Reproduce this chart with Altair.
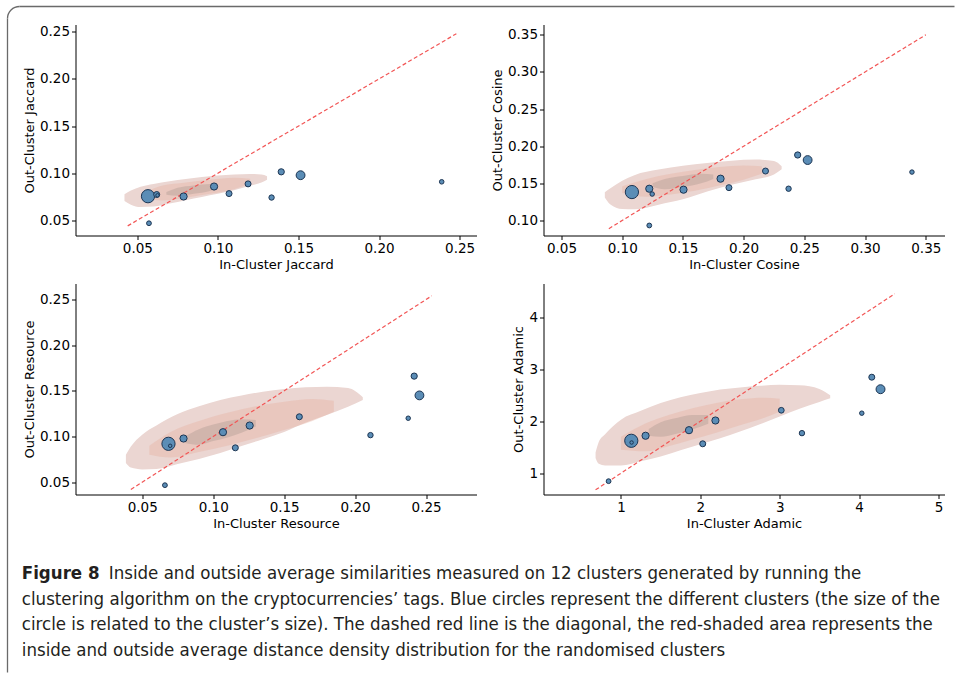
import altair as alt
import pandas as pd

# ---------------- cluster points ----------------
jac_in = [0.0566, 0.0620, 0.0625, 0.0787, 0.0976, 0.1069, 0.1187, 0.1333, 0.1393, 0.1513, 0.2389, 0.0572]
jac_out = [0.0755, 0.0773, 0.0765, 0.0752, 0.0858, 0.0783, 0.0886, 0.0741, 0.1014, 0.0978, 0.0908, 0.0468]
jac_size = [175, 36, 12, 52, 52, 36, 36, 29, 39, 78, 21, 23]

cos_in = [0.108, 0.1223, 0.1247, 0.1505, 0.181, 0.1879, 0.218, 0.237, 0.2445, 0.2527, 0.3386, 0.1223]
cos_out = [0.1383, 0.1428, 0.1356, 0.1415, 0.1563, 0.1442, 0.1666, 0.1428, 0.1882, 0.1814, 0.1652, 0.0933]
cos_size = [175, 52, 20, 52, 52, 36, 36, 29, 39, 78, 20, 23]

res_in = [0.0685, 0.0697, 0.0791, 0.1069, 0.1257, 0.1156, 0.1607, 0.2108, 0.2374, 0.2416, 0.2453, 0.0660]
res_out = [0.0920, 0.0898, 0.0978, 0.1047, 0.1120, 0.0876, 0.1216, 0.1015, 0.1200, 0.1661, 0.1450, 0.0467]
res_size = [175, 12, 52, 52, 52, 36, 36, 29, 20, 39, 78, 23]

ada_in = [1.13, 1.134, 1.31, 1.857, 2.03, 2.19, 3.02, 3.28, 4.034, 4.16, 4.27, 0.844]
ada_out = [1.623, 1.59, 1.72, 1.827, 1.565, 2.013, 2.21, 1.77, 2.154, 2.846, 2.615, 0.846]
ada_size = [175, 12, 52, 52, 36, 52, 33, 29, 20, 36, 80, 23]

# ---------------- randomised-cluster density contours (x, upper, lower) ----------------
jac_kde_x = [0.042, 0.046, 0.052, 0.060, 0.070, 0.080, 0.090, 0.100, 0.110, 0.120, 0.127, 0.1305]
jac_kde_hi = [0.0775, 0.0815, 0.0855, 0.0885, 0.0915, 0.0938, 0.0958, 0.0975, 0.0985, 0.0992, 0.0985, 0.0968]
jac_kde_lo = [0.0705, 0.0665, 0.0640, 0.0645, 0.0678, 0.0713, 0.0747, 0.0781, 0.0818, 0.0866, 0.0900, 0.0930]
jac_mid_x = [0.055, 0.065, 0.080, 0.095, 0.110, 0.120]
jac_mid_hi = [0.0800, 0.0865, 0.0900, 0.0930, 0.0950, 0.0940]
jac_mid_lo = [0.0740, 0.0710, 0.0740, 0.0780, 0.0830, 0.0890]
jac_core_x = [0.068, 0.075, 0.085, 0.095, 0.100]
jac_core_hi = [0.0800, 0.0845, 0.0870, 0.0885, 0.0870]
jac_core_lo = [0.0770, 0.0760, 0.0780, 0.0810, 0.0840]

cos_kde_x = [0.0857, 0.090, 0.100, 0.110, 0.130, 0.150, 0.170, 0.190, 0.210, 0.225, 0.2313]
cos_kde_hi = [0.138, 0.143, 0.1535, 0.161, 0.1685, 0.1738, 0.1775, 0.1805, 0.182, 0.180, 0.173]
cos_kde_lo = [0.131, 0.122, 0.1155, 0.115, 0.1213, 0.1285, 0.139, 0.148, 0.1555, 0.162, 0.169]
cos_mid_x = [0.100, 0.120, 0.140, 0.160, 0.180, 0.200, 0.215]
cos_mid_hi = [0.146, 0.156, 0.163, 0.168, 0.172, 0.174, 0.173]
cos_mid_lo = [0.137, 0.132, 0.135, 0.140, 0.147, 0.155, 0.163]
cos_core_x = [0.125, 0.135, 0.150, 0.165, 0.175]
cos_core_hi = [0.150, 0.156, 0.160, 0.163, 0.162]
cos_core_lo = [0.145, 0.142, 0.145, 0.150, 0.156]

res_kde_x = [0.0385, 0.042, 0.050, 0.060, 0.075, 0.090, 0.105, 0.120, 0.135, 0.150, 0.165, 0.180, 0.195, 0.2054]
res_kde_hi = [0.080, 0.089, 0.102, 0.112, 0.1245, 0.133, 0.140, 0.145, 0.149, 0.152, 0.1538, 0.1545, 0.153, 0.143]
res_kde_lo = [0.071, 0.066, 0.064, 0.0645, 0.070, 0.0755, 0.082, 0.0895, 0.097, 0.105, 0.115, 0.1235, 0.1325, 0.140]
res_mid_x = [0.055, 0.070, 0.090, 0.110, 0.130, 0.150, 0.170, 0.185]
res_mid_hi = [0.090, 0.105, 0.117, 0.126, 0.133, 0.138, 0.141, 0.139]
res_mid_lo = [0.080, 0.077, 0.083, 0.090, 0.098, 0.107, 0.117, 0.127]
res_core_x = [0.080, 0.090, 0.100, 0.110, 0.120, 0.130]
res_core_hi = [0.100, 0.108, 0.113, 0.117, 0.119, 0.118]
res_core_lo = [0.093, 0.091, 0.095, 0.099, 0.104, 0.111]

ada_kde_x = [0.68, 0.72, 0.80, 1.00, 1.25, 1.50, 1.75, 2.00, 2.25, 2.50, 2.75, 3.00, 3.25, 3.50, 3.636]
ada_kde_hi = [1.40, 1.60, 1.75, 2.03, 2.20, 2.35, 2.46, 2.54, 2.61, 2.65, 2.68, 2.70, 2.69, 2.62, 2.50]
ada_kde_lo = [1.29, 1.18, 1.15, 1.148, 1.23, 1.32, 1.44, 1.555, 1.67, 1.80, 1.94, 2.09, 2.24, 2.37, 2.44]
ada_mid_x = [1.0, 1.3, 1.6, 1.9, 2.2, 2.5, 2.8, 3.0]
ada_mid_hi = [1.70, 1.95, 2.12, 2.25, 2.35, 2.42, 2.45, 2.43]
ada_mid_lo = [1.45, 1.42, 1.52, 1.65, 1.78, 1.92, 2.06, 2.18]
ada_core_x = [1.35, 1.5, 1.7, 1.9, 2.1]
ada_core_hi = [1.85, 1.98, 2.06, 2.12, 2.12]
ada_core_lo = [1.72, 1.70, 1.76, 1.84, 1.95]

# diagonal (x = y) end points
jac_diag = [0.044, 0.248]
cos_diag = [0.089, 0.350]
res_diag = [0.042, 0.254]
ada_diag = [0.68, 4.45]

# axis domains and ticks
jac_xdom, jac_ydom = [0.0116, 0.2605], [0.0338, 0.2578]
cos_xdom, cos_ydom = [0.0352, 0.3654], [0.0798, 0.3639]
res_xdom, res_ydom = [0.003, 0.2855], [0.0365, 0.2675]
ada_xdom, ada_ydom = [0.024, 5.076], [0.59, 4.648]
jac_xt, jac_yt = [0.05, 0.10, 0.15, 0.20, 0.25], [0.05, 0.10, 0.15, 0.20, 0.25]
cos_xt, cos_yt = [0.05, 0.10, 0.15, 0.20, 0.25, 0.30, 0.35], [0.10, 0.15, 0.20, 0.25, 0.30, 0.35]
res_xt, res_yt = [0.05, 0.10, 0.15, 0.20, 0.25], [0.05, 0.10, 0.15, 0.20, 0.25]
ada_xt, ada_yt = [1, 2, 3, 4, 5], [1, 2, 3, 4]

caption_bold = "Figure 8"
caption_lines = [
    "Inside and outside average similarities measured on 12 clusters generated by running the",
    "clustering algorithm on the cryptocurrencies\u2019 tags. Blue circles represent the different clusters (the size of the",
    "circle is related to the cluster\u2019s size). The dashed red line is the diagonal, the red-shaded area represents the",
    "inside and outside average distance density distribution for the randomised clusters",
]

# ---------------- styling ----------------
FONT = "DejaVu Sans"
CAPFONT = "DejaVu Sans Condensed"
W, H = 401, 211
one = pd.DataFrame({"k": [0]})
FRAME = "#6a6a6a"


def band(xs, hi, lo):
    return pd.DataFrame({"x": xs, "hi": hi, "lo": lo})


def frame_layers():
    return [
        alt.Chart(one).mark_rule(color=FRAME, strokeWidth=1.3).encode(
            x=alt.value(-56), x2=alt.value(879), y=alt.value(-18)),
        alt.Chart(one).mark_rule(color=FRAME, strokeWidth=1.3).encode(
            x=alt.value(-68), y=alt.value(-6), y2=alt.value(648)),
        alt.Chart(one).mark_arc(radius=12, radius2=12, theta=4.71239, theta2=6.28318,
                                stroke=FRAME, strokeWidth=1.3, fillOpacity=0).encode(
            x=alt.value(-56), y=alt.value(-6)),
    ]


def caption_layers():
    out = [
        alt.Chart(one).mark_text(align="left", baseline="alphabetic", font=CAPFONT, fontSize=18.5,
                                 fontWeight="bold", color="#231f20").encode(
            x=alt.value(-53.7), y=alt.value(295.3), text=alt.value(caption_bold))
    ]
    cap_x = [33.3, -53.7, -53.7, -53.7]
    cap_y = [295.3, 321.0, 346.6, 372.3]
    for t, cx, cy in zip(caption_lines, cap_x, cap_y):
        out.append(
            alt.Chart(one).mark_text(align="left", baseline="alphabetic", font=CAPFONT, fontSize=18.5,
                                     color="#231f20").encode(x=alt.value(cx), y=alt.value(cy), text=alt.value(t))
        )
    return out


def panel(name, xin, yout, size, outer, mid, core, diag, xdom, ydom, xt, yt, fmt, extra=()):
    xs = alt.Scale(domain=xdom, nice=False, zero=False)
    ys = alt.Scale(domain=ydom, nice=False, zero=False)
    xax = alt.Axis(title=f"In-Cluster {name}", values=xt, format=fmt, labelFlush=False, labelOverlap=False)
    yax = alt.Axis(title=f"Out-Cluster {name}", values=yt, format=fmt, labelFlush=False, labelOverlap=False)

    def X(f):
        return alt.X(f, type="quantitative", scale=xs, axis=xax)

    def Y(f):
        return alt.Y(f, type="quantitative", scale=ys, axis=yax)

    layers = []
    for df, col, op in [(outer, "#ebd6d2", 1.0), (mid, "#e6ad9a", 0.35), (core, "#9c8a85", 0.3)]:
        layers.append(
            alt.Chart(df).mark_area(color=col, opacity=op, interpolate="monotone").encode(
                x=X("x"), y=Y("hi"), y2=alt.Y2("lo"))
        )
    ddf = pd.DataFrame({"x": diag, "y": diag})
    layers.append(
        alt.Chart(ddf).mark_line(color="#f25555", strokeDash=[4, 2.5], strokeWidth=1.2).encode(x=X("x"), y=Y("y"))
    )
    pdf = pd.DataFrame({"x": xin, "y": yout, "s": size})
    layers.append(
        alt.Chart(pdf).mark_circle(fill="#5b8db6", stroke="#1c3553", strokeWidth=1, opacity=1, fillOpacity=1).encode(
            x=X("x"), y=Y("y"), size=alt.Size("s:Q", scale=None, legend=None)
        )
    )
    layers.extend(extra)
    return alt.layer(*layers).properties(width=W, height=H)


p1 = panel("Jaccard", jac_in, jac_out, jac_size,
           band(jac_kde_x, jac_kde_hi, jac_kde_lo), band(jac_mid_x, jac_mid_hi, jac_mid_lo),
           band(jac_core_x, jac_core_hi, jac_core_lo), jac_diag, jac_xdom, jac_ydom, jac_xt, jac_yt, ".2f",
           extra=frame_layers())
p2 = panel("Cosine", cos_in, cos_out, cos_size,
           band(cos_kde_x, cos_kde_hi, cos_kde_lo), band(cos_mid_x, cos_mid_hi, cos_mid_lo),
           band(cos_core_x, cos_core_hi, cos_core_lo), cos_diag, cos_xdom, cos_ydom, cos_xt, cos_yt, ".2f")
p3 = panel("Resource", res_in, res_out, res_size,
           band(res_kde_x, res_kde_hi, res_kde_lo), band(res_mid_x, res_mid_hi, res_mid_lo),
           band(res_core_x, res_core_hi, res_core_lo), res_diag, res_xdom, res_ydom, res_xt, res_yt, ".2f",
           extra=caption_layers())
p4 = panel("Adamic", ada_in, ada_out, ada_size,
           band(ada_kde_x, ada_kde_hi, ada_kde_lo), band(ada_mid_x, ada_mid_hi, ada_mid_lo),
           band(ada_core_x, ada_core_hi, ada_core_lo), ada_diag, ada_xdom, ada_ydom, ada_xt, ada_yt, "d")

chart = alt.concat(p1, p2, p3, p4, columns=2, spacing={"row": 48, "column": 67}, bounds="flush").properties(
    padding={"left": 4.5, "top": 3.5, "right": 0, "bottom": 0}
).configure_view(strokeWidth=0).configure_axis(
    grid=False, domainColor="#000", domainWidth=1, tickColor="#000", tickSize=4, tickWidth=1,
    labelFont=FONT, labelFontSize=13.5, labelColor="#000", labelPadding=2,
    titleFont=FONT, titleFontSize=13, titleFontWeight="normal", titleColor="#000", titlePadding=3,
)

chart.save("out.html", embed_options={"renderer": "svg", "actions": False})
